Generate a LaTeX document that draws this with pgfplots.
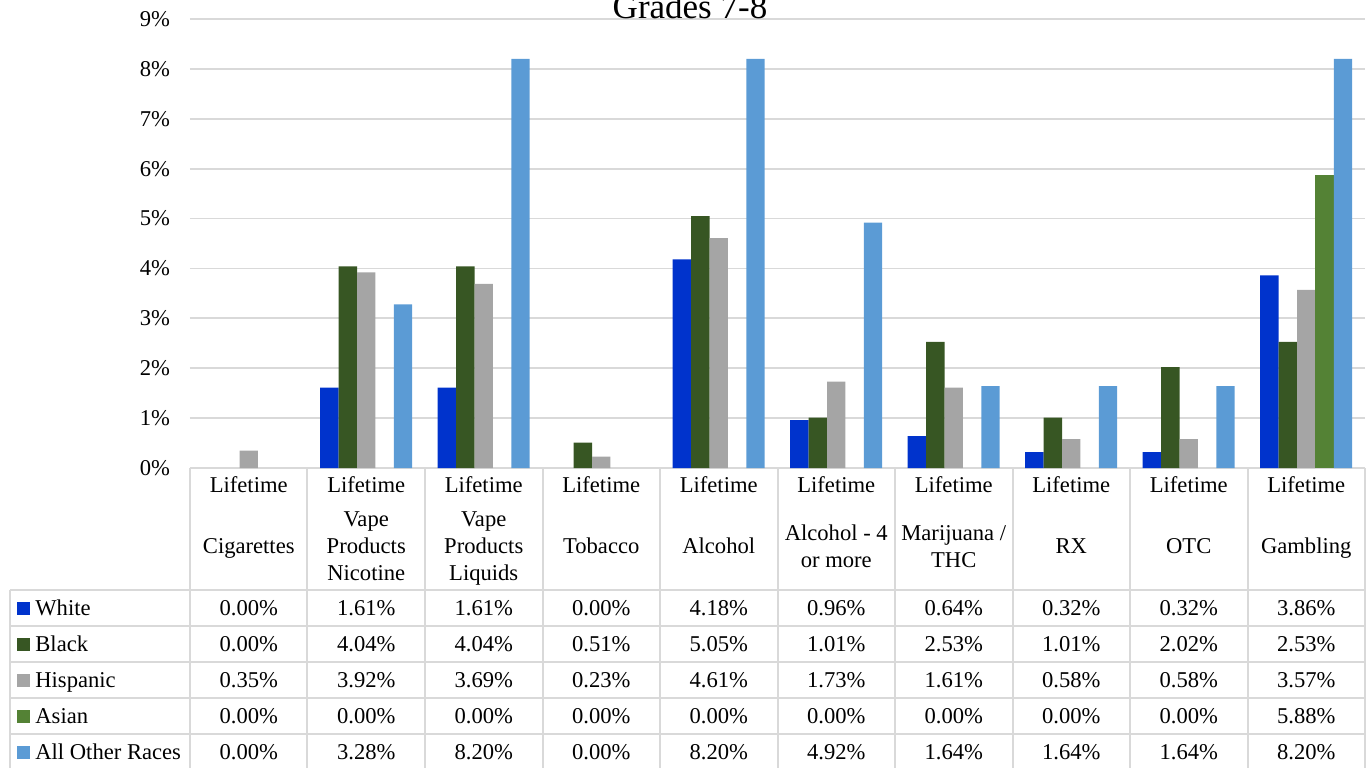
\documentclass[border=0pt]{standalone}
\usepackage{pgfplots}
\pgfplotsset{compat=1.18}
\usepackage{pgfplotstable}
\usepackage{fontspec}
\setmainfont{Liberation Serif}
\definecolor{cWhite}{RGB}{0,51,204}
\definecolor{cBlack}{RGB}{55,86,35}
\definecolor{cHisp}{RGB}{165,165,165}
\definecolor{cAsian}{RGB}{84,130,53}
\definecolor{cOther}{RGB}{91,155,213}
\definecolor{gridc}{RGB}{217,217,217}
\newcommand\tf{\fontsize{11.3}{13.5}\selectfont}

\pgfplotstableread{
cat White Black Hispanic Asian Other
0 0.00 0.00 0.35 0.00 0.00
1 1.61 4.04 3.92 0.00 3.28
2 1.61 4.04 3.69 0.00 8.20
3 0.00 0.51 0.23 0.00 0.00
4 4.18 5.05 4.61 0.00 8.20
5 0.96 1.01 1.73 0.00 4.92
6 0.64 2.53 1.61 0.00 1.64
7 0.32 1.01 0.58 0.00 1.64
8 0.32 2.02 0.58 0.00 1.64
9 3.86 2.53 3.57 5.88 8.20
}\data

\begin{document}
\begin{tikzpicture}[cell/.style={font=\tf, inner sep=0pt, text height=7.8pt, text depth=0pt}]
\begin{axis}[
  at={(0,0)}, anchor=south west,
  scale only axis, width=587.5pt, height=224.5pt,
  xmin=-0.5, xmax=9.5, ymin=0, ymax=9,
  ybar=0pt, bar width=9.2pt,
  xtick=\empty, ytick={0,1,...,9},
  yticklabel={\pgfmathprintnumber[assume math mode=true]{\tick}\%},
  yticklabel style={font=\tf, anchor=east, xshift=-6.5pt},
  major tick length=0pt,
  axis line style={draw=none},
  ymajorgrids, grid style={gridc, line width=0.9pt},
  every axis plot/.append style={draw=none},
  unbounded coords=discard,
  y filter/.expression={y==0 ? nan : y},
  clip=false,
]
\addplot[fill=cWhite] table[x=cat,y=White]{\data};
\addplot[fill=cBlack] table[x=cat,y=Black]{\data};
\addplot[fill=cHisp] table[x=cat,y=Hispanic]{\data};
\addplot[fill=cAsian] table[x=cat,y=Asian]{\data};
\addplot[fill=cOther] table[x=cat,y=Other]{\data};
\end{axis}

% title (partly cut by the page edge, as in the reference)
\node[overlay, anchor=base, font=\fontsize{17.5}{20}\selectfont] at (250pt,225pt) {Grades 7-8};

% data table grid
\begin{scope}[gridc, line width=1pt]
\foreach \i in {0,...,10} \draw (58.75pt*\i,0pt) -- (58.75pt*\i,-152pt);
\draw (-90pt,-61pt) -- (-90pt,-152pt);
\foreach \yy in {-61,-79,-97,-115,-133,-151} \draw (-90pt,\yy pt) -- (587.5pt,\yy pt);
\end{scope}

% header
\foreach \c/\n/\la/\lb/\lc in {0/1/Cigarettes//, 1/3/Vape/Products/Nicotine, 2/3/Vape/Products/Liquids, 3/1/Tobacco//, 4/1/Alcohol//, 5/2/Alcohol - 4/or more/, 6/2/{Marijuana /}/THC/, 7/1/RX//, 8/1/OTC//, 9/1/Gambling//}{
  \pgfmathsetmacro\xx{29.375+58.75*\c}
  \pgfmathsetmacro\ya{-39+6.75*(\n-1)}
  \node[cell] at (\xx pt,-8.5pt) {Lifetime};
  \node[cell] at (\xx pt,\ya pt) {\la};
  \node[cell] at (\xx pt,\ya pt-13.5pt) {\lb};
  \node[cell] at (\xx pt,\ya pt-27pt) {\lc};
}

% rows
\foreach \s/\col/\lab [count=\r from 0] in {White/cWhite/White, Black/cBlack/Black, Hispanic/cHisp/Hispanic, Asian/cAsian/Asian, Other/cOther/All Other Races}{
  \pgfmathsetmacro\yy{-70-18*\r}
  \fill[\col] (-86.5pt,\yy pt-3.25pt) rectangle (-80pt,\yy pt+3.25pt);
  \node[cell, anchor=west] at (-77.5pt,\yy pt) {\lab};
  \foreach \c in {0,...,9}{
    \pgfplotstablegetelem{\c}{\s}\of\data
    \pgfmathsetmacro\xx{29.375+58.75*\c}
    \node[cell] at (\xx pt,\yy pt) {\pgfmathprintnumber[fixed,fixed zerofill,precision=2,assume math mode=true]{\pgfplotsretval}\%};
  }
}

\pgfresetboundingbox
\useasboundingbox (-95pt,-149.5pt) rectangle (588.5pt,234pt);
\end{tikzpicture}
\end{document}
